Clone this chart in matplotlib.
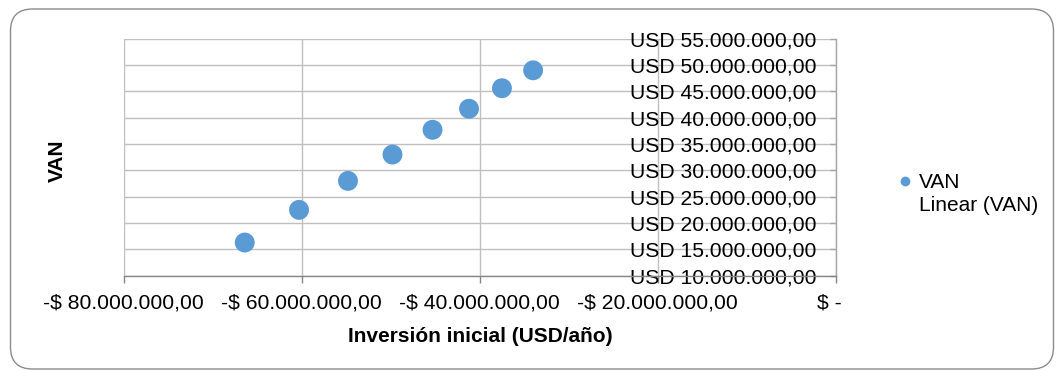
import matplotlib
matplotlib.use('Agg')
import matplotlib.pyplot as plt
from matplotlib.lines import Line2D
from matplotlib.patches import FancyBboxPatch
from matplotlib.ticker import FuncFormatter, FixedLocator

# ---- data ----
inversion = [-66.4e6, -60.3e6, -54.8e6, -49.8e6, -45.3e6, -41.2e6, -37.5e6, -34.0e6]
van = [16.3e6, 22.5e6, 28.0e6, 33.0e6, 37.7e6, 41.7e6, 45.6e6, 49.0e6]
x_ticks = [-80e6, -60e6, -40e6, -20e6, 0]
y_ticks = [10e6, 15e6, 20e6, 25e6, 30e6, 35e6, 40e6, 45e6, 50e6, 55e6]
series_label = "VAN"
trend_label = "Linear (VAN)"
x_title = "Inversión inicial (USD/año)"
y_title = "VAN"

plt.rcParams['font.family'] = ['Liberation Sans', 'DejaVu Sans']

W, H, DPI = 1059, 371, 100
fig = plt.figure(figsize=(W / DPI, H / DPI), dpi=DPI)

# outer rounded chart border (pixel coordinates, origin bottom-left)
border = FancyBboxPatch((10.5, 2.0), 1043, 360,
                        boxstyle="round,pad=0,rounding_size=22",
                        transform=None, facecolor='none',
                        edgecolor='#8c8c8c', linewidth=1.0, zorder=0)
fig.patches.append(border)

left, right, top, bottom = 123.7, 835.7, 38.7, 275.7
ax = fig.add_axes([left / W, 1 - bottom / H, (right - left) / W, (bottom - top) / H])
ax.set_facecolor('none')

ax.scatter(inversion, van, s=205, color='#5B9BD5', edgecolors='none', zorder=3)

ax.set_xlim(-80e6, 0)
ax.set_ylim(10e6, 55e6)
ax.xaxis.set_major_locator(FixedLocator(x_ticks))
ax.yaxis.set_major_locator(FixedLocator(y_ticks))


def euro_num(v):
    s = f"{abs(v):,.2f}"
    return s.replace(',', 'X').replace('.', ',').replace('X', '.')


def fmt_x(v, pos):
    if abs(v) < 1:
        return '$ -  '
    return '-$ ' + euro_num(v)


def fmt_y(v, pos):
    return 'USD ' + euro_num(v)


ax.xaxis.set_major_formatter(FuncFormatter(fmt_x))
ax.yaxis.set_major_formatter(FuncFormatter(fmt_y))

ax.grid(True, color='#BFBFBF', linewidth=1.0)
ax.set_axisbelow(True)

for s in ['top', 'right']:
    ax.spines[s].set_visible(False)
ax.spines['left'].set_position(('data', 0))
ax.spines['left'].set_color('#A6A6A6')
ax.spines['bottom'].set_color('#868686')
ax.spines['left'].set_linewidth(1.0)
ax.spines['bottom'].set_linewidth(1.0)

ax.tick_params(axis='x', direction='out', length=5, width=1.0, color='#868686',
               labelsize=15.2, pad=8, labelcolor='black')
ax.tick_params(axis='y', direction='out', length=4.3, width=1.0, color='#A6A6A6',
               labelsize=15.2, pad=9.5, labelcolor='black')

fig.text(480 / W, 1 - 336 / H, x_title, ha='center', va='center',
         fontsize=15, fontweight='bold')
fig.text(57 / W, 1 - 161 / H, y_title, ha='center', va='center',
         fontsize=15, fontweight='bold', rotation=90)

handles = [Line2D([], [], marker='o', linestyle='none', color='#5B9BD5',
                  markersize=7, markeredgewidth=0),
           Line2D([], [], linestyle='none', marker=None)]
fig.legend(handles, [series_label, trend_label], loc='upper left',
           bbox_to_anchor=(899.8 / W, 1 - 173 / H), frameon=False,
           fontsize=15, handlelength=0.5, handletextpad=0.42,
           labelspacing=0.2, borderpad=0, borderaxespad=0)

fig.savefig('out.png', dpi=DPI)
